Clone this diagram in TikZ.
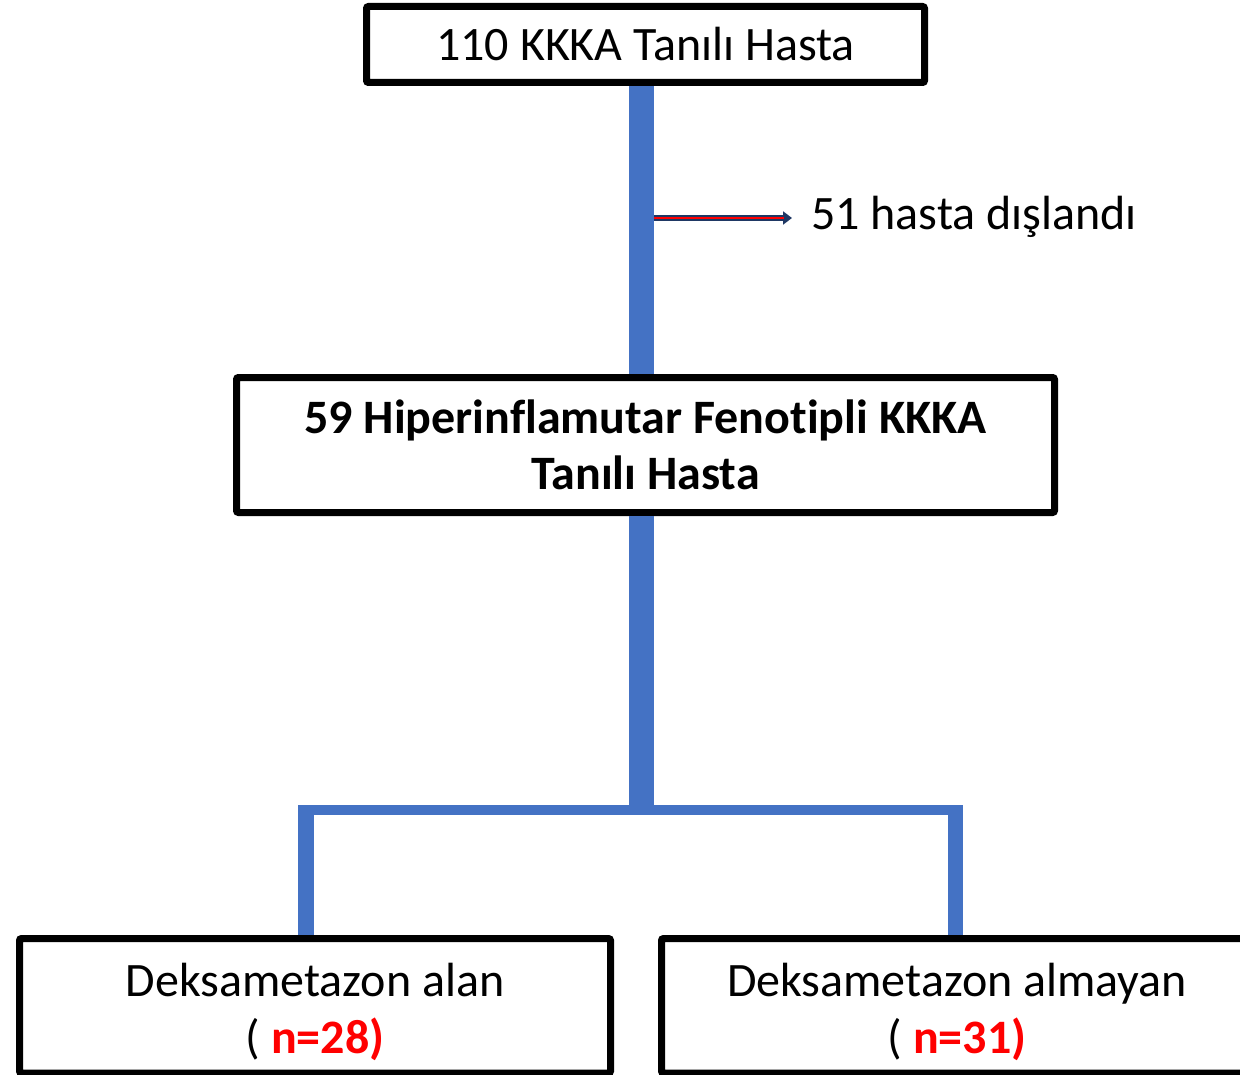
\documentclass[tikz,border=0pt]{standalone}
\usepackage{fontspec}
\setmainfont{Carlito}[Ligatures=NoCommon]
\usetikzlibrary{arrows.meta}
\definecolor{barblue}{RGB}{68,114,196}
\definecolor{navyline}{RGB}{31,56,100}
\definecolor{redtxt}{RGB}{255,0,0}
\begin{document}
\begin{tikzpicture}[x=1pt,y=-1pt,
  box/.style={draw=black,line width=7pt,rectangle,rounded corners=2pt,fill=white,inner sep=0pt,align=center,font=\fontsize{48}{56}\selectfont},
  txt/.style={inner sep=0pt,align=center,font=\fontsize{48}{57}\selectfont},
  bar/.style={draw=barblue,line cap=butt}]
\useasboundingbox (0,0) rectangle (1240,1075);
\fill[white] (0,0) rectangle (1240,1075);
% boxes
\node[box,minimum width=558pt,minimum height=76pt] (top) at (645.5,44.5) {110 KKKA Tanılı Hasta};
\node[box,minimum width=818pt,minimum height=135pt,font=\fontsize{48}{56}\selectfont\bfseries] (mid) at (645.5,445) {59 Hiperinflamutar Fenotipli KKKA\\Tanılı Hasta};
\node[box,minimum width=591pt,minimum height=134.5pt] (left) at (315,1005.8) {};
\node[box,minimum width=591pt,minimum height=134.5pt] (right) at (957,1005.8) {};
\node[txt] (lefttxt) at ([yshift=-6pt]left.center) {Deksametazon alan\\( {\color{redtxt}\bfseries n=28)}};
\node[txt] (righttxt) at ([yshift=-6pt]right.center) {Deksametazon almayan\\( {\color{redtxt}\bfseries n=31)}};
\node[anchor=base west,inner sep=0pt,font=\fontsize{48}{56}\selectfont] (excl) at (811,230) {51 hasta dışlandı};
% coordinates
\coordinate (tx) at (641.5,0);
\coordinate (j) at (641.5,810);
\coordinate (hl) at (314,810);
\coordinate (hr) at (963,810);
\coordinate (lv) at (306,805);
\coordinate (rv) at (955.5,805);
\coordinate (as) at (654,218);
\coordinate (ae) at (792,218);
\coordinate (ae2) at (784,218);
% connectors
\draw[bar,line width=25pt] (tx |- top.south) -- (tx |- mid.north);
\draw[bar,line width=25pt] (tx |- mid.south) -- (j);
\draw[bar,line width=10pt] (hl) -- (hr);
\draw[bar,line width=16pt] (lv) -- (lv |- left.north);
\draw[bar,line width=15pt] (rv) -- (rv |- right.north);
% exclusion arrow
\draw[navyline,line width=6pt,-{Triangle[length=9pt,width=13pt]}] (as) -- (ae);
\draw[redtxt,line width=2.5pt] (as) -- (ae2);
\end{tikzpicture}
\end{document}
